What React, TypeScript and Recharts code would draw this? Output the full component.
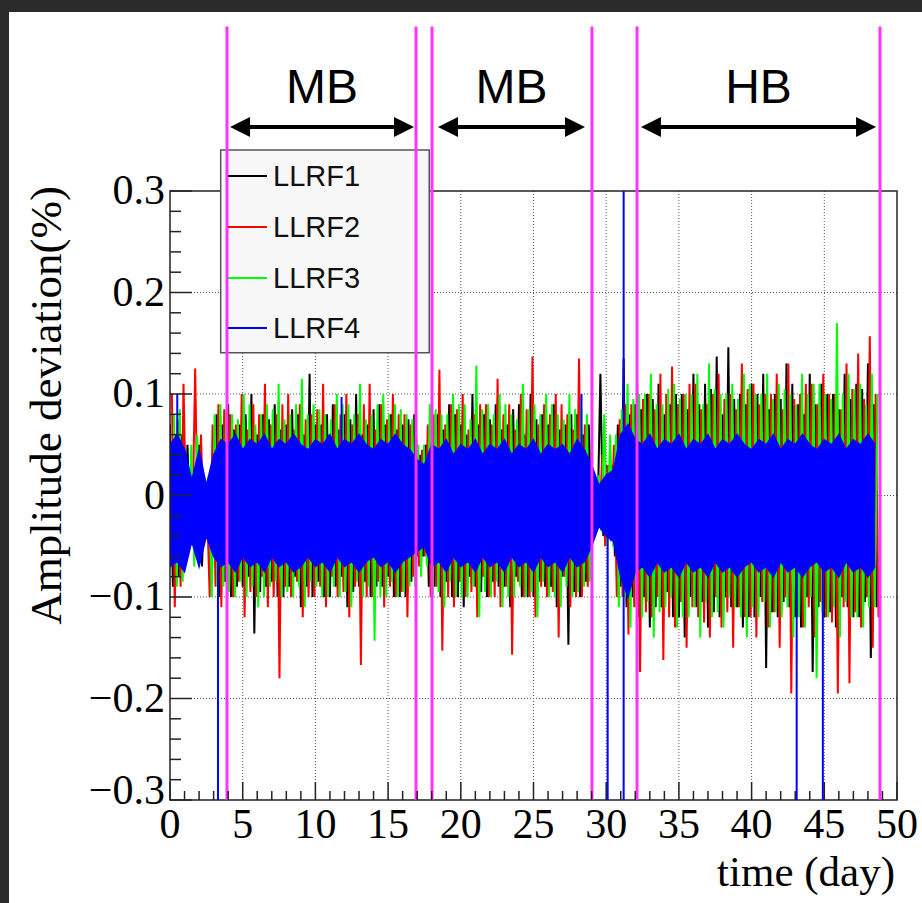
import React from "react";
import {
  ComposedChart,
  Line,
  Area,
  XAxis,
  YAxis,
  CartesianGrid,
  ReferenceLine,
  ReferenceArea,
  Legend,
} from "recharts";

// ---------------- data (amplitude deviation in %) ----------------
const seriesNames = ["LLRF1", "LLRF2", "LLRF3", "LLRF4"];

// LLRF1..3: successive positive / negative peaks of the noise trace.
// Each 0.8-day slot holds a main peak pair (Hi/Lo) and a secondary pair (HiB/LoB).
const llrf1Hi = [
  0.07, 0.06, 0.02, 0.01, 0.08, 0.09, 0.07, 0.1, 0.08, 0.09,
  0.07, 0.08, 0.12, 0.07, 0.09, 0.08, 0.1, 0.07, 0.09, 0.08,
  0.07, 0.08, 0.05, 0.08, 0.09, 0.07, 0.1, 0.08, 0.09, 0.07,
  0.09, 0.1, 0.08, 0.09, 0.07, 0.08, 0.07, 0.12, 0.03, 0.135,
  0.09, 0.1, 0.11, 0.09, 0.1, 0.12, 0.11, 0.137, 0.146, 0.1,
  0.11, 0.12, 0.1, 0.13, 0.09, 0.12, 0.11, 0.1, 0.12, 0.11,
  0.13,
];
const llrf1Lo = [
  -0.09, -0.06, -0.04, -0.03, -0.1, -0.1, -0.09, -0.136, -0.09, -0.1,
  -0.09, -0.11, -0.1, -0.1, -0.09, -0.11, -0.09, -0.1, -0.09, -0.1,
  -0.1, -0.06, -0.09, -0.1, -0.1, -0.11, -0.09, -0.1, -0.09, -0.11,
  -0.1, -0.1, -0.09, -0.11, -0.147, -0.1, -0.03, -0.04, -0.06, -0.11,
  -0.12, -0.13, -0.11, -0.12, -0.14, -0.11, -0.13, -0.12, -0.11, -0.13,
  -0.12, -0.17, -0.12, -0.11, -0.13, -0.174, -0.12, -0.13, -0.11, -0.12,
  -0.16,
];
const llrf1HiB = [
  0.06, 0.05, 0.05, 0.01, 0.07, 0.065, 0.08, 0.06, 0.075, 0.065,
  0.085, 0.06, 0.07, 0.08, 0.065, 0.075, 0.06, 0.085, 0.07, 0.065,
  0.075, 0.04, 0.07, 0.065, 0.08, 0.06, 0.07, 0.075, 0.065, 0.085,
  0.06, 0.075, 0.07, 0.065, 0.08, 0.06, 0.01, 0.03, 0.07, 0.08,
  0.085, 0.095, 0.08, 0.1, 0.085, 0.09, 0.105, 0.08, 0.095, 0.09,
  0.1, 0.085, 0.095, 0.11, 0.08, 0.09, 0.1, 0.085, 0.095, 0.105,
  0.09,
];
const llrf1LoB = [
  -0.08, -0.04, -0.07, -0.05, -0.085, -0.09, -0.08, -0.095, -0.085, -0.1,
  -0.08, -0.09, -0.085, -0.1, -0.08, -0.095, -0.085, -0.09, -0.08, -0.1,
  -0.085, -0.06, -0.09, -0.085, -0.1, -0.08, -0.095, -0.085, -0.09, -0.08,
  -0.1, -0.085, -0.09, -0.08, -0.095, -0.085, -0.03, -0.04, -0.09, -0.1,
  -0.1, -0.11, -0.095, -0.12, -0.1, -0.105, -0.115, -0.1, -0.11, -0.12,
  -0.1, -0.115, -0.105, -0.12, -0.1, -0.11, -0.115, -0.1, -0.12, -0.105,
  -0.11,
];

const llrf2Hi = [
  0.1, 0.11, 0.125, 0.0, 0.09, 0.08, 0.1, 0.09, 0.11, 0.08,
  0.1, 0.09, 0.08, 0.11, 0.09, 0.1, 0.08, 0.11, 0.09, 0.1,
  0.08, 0.06, 0.07, 0.124, 0.09, 0.1, 0.08, 0.09, 0.115, 0.09,
  0.1, 0.137, 0.09, 0.1, 0.08, 0.135, 0.01, 0.04, 0.05, 0.09,
  0.11, 0.1, 0.12, 0.127, 0.1, 0.11, 0.09, 0.12, 0.1, 0.13,
  0.11, 0.1, 0.12, 0.13, 0.1, 0.11, 0.12, 0.1, 0.13, 0.14,
  0.157,
];
const llrf2Lo = [
  -0.11, -0.04, -0.05, -0.1, -0.11, -0.1, -0.12, -0.1, -0.11, -0.18,
  -0.1, -0.12, -0.1, -0.11, -0.1, -0.12, -0.167, -0.1, -0.11, -0.1,
  -0.12, -0.07, -0.1, -0.153, -0.11, -0.1, -0.12, -0.1, -0.11, -0.157,
  -0.1, -0.12, -0.1, -0.14, -0.11, -0.1, -0.03, -0.05, -0.1, -0.137,
  -0.174, -0.12, -0.162, -0.13, -0.15, -0.12, -0.14, -0.13, -0.15, -0.12,
  -0.14, -0.13, -0.15, -0.195, -0.13, -0.14, -0.12, -0.195, -0.185, -0.13,
  -0.15,
];
const llrf2HiB = [
  0.075, 0.02, 0.06, 0.07, 0.085, 0.07, 0.065, 0.08, 0.07, 0.09,
  0.065, 0.075, 0.085, 0.06, 0.08, 0.07, 0.09, 0.065, 0.075, 0.08,
  0.07, 0.045, 0.08, 0.07, 0.085, 0.065, 0.09, 0.07, 0.08, 0.065,
  0.085, 0.07, 0.08, 0.09, 0.065, 0.07, 0.015, 0.03, 0.075, 0.09,
  0.095, 0.085, 0.1, 0.09, 0.11, 0.085, 0.1, 0.095, 0.085, 0.105,
  0.09, 0.1, 0.085, 0.095, 0.11, 0.09, 0.1, 0.085, 0.105, 0.095,
  0.1,
];
const llrf2LoB = [
  -0.09, -0.04, -0.04, -0.09, -0.1, -0.085, -0.095, -0.08, -0.1, -0.09,
  -0.085, -0.1, -0.09, -0.08, -0.095, -0.09, -0.1, -0.085, -0.09, -0.095,
  -0.08, -0.06, -0.09, -0.1, -0.085, -0.095, -0.08, -0.1, -0.09, -0.085,
  -0.1, -0.09, -0.095, -0.08, -0.1, -0.09, -0.03, -0.045, -0.1, -0.11,
  -0.115, -0.1, -0.12, -0.105, -0.11, -0.125, -0.1, -0.115, -0.11, -0.12,
  -0.105, -0.115, -0.1, -0.12, -0.11, -0.105, -0.125, -0.11, -0.115, -0.1,
  -0.12,
];

const llrf3Hi = [
  0.08, 0.03, 0.06, 0.02, 0.09, 0.08, 0.1, 0.07, 0.09, 0.11,
  0.08, 0.115, 0.09, 0.08, 0.1, 0.09, 0.11, 0.08, 0.1, 0.09,
  0.08, 0.05, 0.09, 0.08, 0.1, 0.09, 0.128, 0.09, 0.1, 0.08,
  0.11, 0.09, 0.1, 0.08, 0.1, 0.09, 0.01, 0.08, 0.06, 0.11,
  0.1, 0.12, 0.09, 0.11, 0.1, 0.12, 0.13, 0.1, 0.11, 0.12,
  0.1, 0.12, 0.11, 0.1, 0.12, 0.11, 0.1, 0.17, 0.12, 0.11,
  0.12,
];
const llrf3Lo = [
  -0.09, -0.04, -0.03, -0.1, -0.09, -0.1, -0.1, -0.11, -0.09, -0.1,
  -0.1, -0.11, -0.09, -0.1, -0.1, -0.11, -0.1, -0.143, -0.1, -0.1,
  -0.09, -0.08, -0.1, -0.11, -0.1, -0.1, -0.12, -0.1, -0.11, -0.1,
  -0.1, -0.12, -0.1, -0.11, -0.1, -0.09, -0.03, -0.05, -0.11, -0.13,
  -0.12, -0.14, -0.11, -0.13, -0.12, -0.14, -0.12, -0.13, -0.11, -0.14,
  -0.12, -0.13, -0.12, -0.14, -0.13, -0.18, -0.12, -0.14, -0.12, -0.13,
  -0.11,
];
const llrf3HiB = [
  0.085, 0.05, 0.015, 0.08, 0.085, 0.075, 0.09, 0.08, 0.085, 0.075,
  0.09, 0.08, 0.085, 0.075, 0.09, 0.08, 0.075, 0.09, 0.08, 0.085,
  0.075, 0.05, 0.085, 0.08, 0.09, 0.075, 0.085, 0.08, 0.09, 0.075,
  0.085, 0.08, 0.09, 0.075, 0.085, 0.08, 0.02, 0.06, 0.085, 0.095,
  0.1, 0.09, 0.105, 0.095, 0.1, 0.09, 0.105, 0.1, 0.095, 0.11,
  0.1, 0.095, 0.105, 0.09, 0.1, 0.11, 0.095, 0.1, 0.105, 0.09,
  0.1,
];
const llrf3LoB = [
  -0.085, -0.07, -0.035, -0.09, -0.095, -0.085, -0.09, -0.1, -0.085, -0.095,
  -0.09, -0.085, -0.1, -0.09, -0.095, -0.085, -0.09, -0.1, -0.085, -0.095,
  -0.09, -0.07, -0.095, -0.085, -0.1, -0.09, -0.095, -0.085, -0.1, -0.09,
  -0.095, -0.085, -0.1, -0.09, -0.095, -0.085, -0.035, -0.05, -0.1, -0.11,
  -0.105, -0.115, -0.1, -0.12, -0.11, -0.105, -0.115, -0.1, -0.12, -0.11,
  -0.105, -0.115, -0.11, -0.12, -0.1, -0.115, -0.11, -0.105, -0.12, -0.11,
  -0.1,
];

// LLRF4: upper / lower edge of the dense band, every 0.5 day
const llrf4Hi = [
  0.05, 0.06, 0.045, 0.015, 0.045, 0.01, 0.04, 0.055, 0.05, 0.06,
  0.045, 0.055, 0.05, 0.06, 0.045, 0.055, 0.05, 0.06, 0.05, 0.045,
  0.055, 0.05, 0.06, 0.045, 0.055, 0.05, 0.06, 0.05, 0.045, 0.055,
  0.05, 0.06, 0.05, 0.045, 0.035, 0.03, 0.05, 0.045, 0.055, 0.04,
  0.05, 0.045, 0.055, 0.04, 0.05, 0.045, 0.055, 0.04, 0.05, 0.045,
  0.055, 0.04, 0.05, 0.045, 0.05, 0.04, 0.055, 0.045, 0.03, 0.01,
  0.02, 0.025, 0.06, 0.07, 0.055, 0.05, 0.06, 0.045, 0.055, 0.05,
  0.06, 0.045, 0.055, 0.05, 0.06, 0.045, 0.055, 0.05, 0.06, 0.05,
  0.045, 0.055, 0.05, 0.06, 0.045, 0.055, 0.05, 0.06, 0.05, 0.045,
  0.055, 0.05, 0.06, 0.045, 0.055, 0.05, 0.06, 0.05,
];
const llrf4Lo = [
  -0.07, -0.065, -0.075, -0.045, -0.07, -0.04, -0.06, -0.07, -0.065, -0.075,
  -0.06, -0.07, -0.065, -0.075, -0.06, -0.07, -0.065, -0.075, -0.07, -0.06,
  -0.07, -0.065, -0.075, -0.06, -0.07, -0.065, -0.075, -0.065, -0.06, -0.07,
  -0.065, -0.075, -0.065, -0.06, -0.055, -0.05, -0.07, -0.065, -0.075, -0.06,
  -0.07, -0.065, -0.075, -0.06, -0.07, -0.065, -0.075, -0.06, -0.07, -0.065,
  -0.075, -0.06, -0.07, -0.065, -0.075, -0.06, -0.07, -0.065, -0.05, -0.03,
  -0.04, -0.045, -0.08, -0.1, -0.075, -0.07, -0.08, -0.065, -0.075, -0.07,
  -0.08, -0.065, -0.075, -0.07, -0.08, -0.065, -0.075, -0.07, -0.08, -0.07,
  -0.065, -0.075, -0.07, -0.08, -0.065, -0.075, -0.07, -0.08, -0.07, -0.065,
  -0.075, -0.07, -0.08, -0.065, -0.075, -0.07, -0.08, -0.07,
];
// isolated LLRF4 excursions (day, from, to)
const llrf4SpikeDay = [0.5, 3.3, 11.8, 28.3, 30.1, 31.2, 43.1, 44.9];
const llrf4SpikeFrom = [0.05, -0.06, 0.05, 0.04, -0.04, 0.31, -0.07, -0.07];
const llrf4SpikeTo = [0.1, -0.31, 0.097, 0.1, -0.31, -0.31, -0.31, -0.31];

// beam modes (day)
const modeEdges = [3.92, 16.92, 18.02, 29.02, 32.12, 48.83];
const modeLabels = ["MB", "MB", "HB"];
const modeStart = [4.13, 18.43, 32.39];
const modeEnd = [16.78, 28.54, 48.56];

// axes
const xTicks = [
  0, 1, 2, 3, 4, 5, 6, 7, 8, 9, 10, 11, 12, 13, 14, 15, 16, 17, 18, 19, 20,
  21, 22, 23, 24, 25, 26, 27, 28, 29, 30, 31, 32, 33, 34, 35, 36, 37, 38, 39,
  40, 41, 42, 43, 44, 45, 46, 47, 48, 49, 50,
];
const yTicks = [
  -0.3, -0.28, -0.26, -0.24, -0.22, -0.2, -0.18, -0.16, -0.14, -0.12, -0.1,
  -0.08, -0.06, -0.04, -0.02, 0, 0.02, 0.04, 0.06, 0.08, 0.1, 0.12, 0.14,
  0.16, 0.18, 0.2, 0.22, 0.24, 0.26, 0.28, 0.3,
];
const xGrid = [5, 10, 15, 20, 25, 30, 35, 40, 45];
const yGrid = [-0.2, -0.1, 0, 0.1, 0.2];

// ---------------- styling ----------------
const colors = ["#000000", "#ff0000", "#00ff00", "#0000ff"];
const MAGENTA = "#ff33ff";
const AXIS = "#222";
const SERIF = "'Liberation Serif', 'Times New Roman', serif";
const SANS = "'Liberation Sans', Arial, sans-serif";
const PLOT_LEFT = 170;
const PLOT_BOTTOM = 800;
const DATA_END = 48.8;

const SLOT = 0.8;
const zigzag = (hi: number[], lo: number[], hiB: number[], loB: number[], start: number) => {
  const pts: { day: number; v: number }[] = [];
  hi.forEach((h, i) => {
    const d = start + i * SLOT;
    pts.push({ day: d, v: h });
    pts.push({ day: d + 0.2, v: lo[i] });
    pts.push({ day: d + 0.4, v: hiB[i] });
    pts.push({ day: d + 0.6, v: loB[i] });
  });
  return pts.filter((p) => p.day <= DATA_END);
};

const llrf1Data = zigzag(llrf1Hi, llrf1Lo, llrf1HiB, llrf1LoB, 0);
const llrf2Data = zigzag(llrf2Hi, llrf2Lo, llrf2HiB, llrf2LoB, 0.13);
const llrf3Data = zigzag(llrf3Hi, llrf3Lo, llrf3HiB, llrf3LoB, 0.27);
const llrf4Band = llrf4Hi.map((h, i) => ({ day: i * 0.5, band: [llrf4Lo[i], h] }));
const llrf4Spikes = llrf4SpikeDay.flatMap((d, i) => [
  { day: d, v: llrf4SpikeFrom[i] },
  { day: d, v: llrf4SpikeTo[i] },
  { day: d, v: null },
]);

const fmtY = (v: number) => {
  if (Math.abs(v) < 1e-9) return "0";
  return (v < 0 ? "\u2212" : "") + Math.abs(v).toFixed(1);
};

const XTick = (props: any) => {
  const { x, payload } = props;
  const v = payload.value;
  const major = v % 5 === 0;
  return (
    <g>
      <line x1={x} x2={x} y1={PLOT_BOTTOM} y2={PLOT_BOTTOM - (major ? 18 : 9)} stroke={AXIS} strokeWidth={1.5} />
      {major && (
        <text x={x} y={PLOT_BOTTOM + 38} textAnchor="middle" fontSize={42} fontFamily={SERIF} fill="#000">
          {v}
        </text>
      )}
    </g>
  );
};

const YTick = (props: any) => {
  const { y, payload } = props;
  const v = payload.value;
  const major = Math.abs(v * 10 - Math.round(v * 10)) < 1e-6;
  const lift = v < -0.29 ? 10 : 1;
  return (
    <g>
      <line x1={PLOT_LEFT} x2={PLOT_LEFT + (major ? 22 : 11)} y1={y} y2={y} stroke={AXIS} strokeWidth={1.5} />
      {major && (
        <text x={165} y={y + 14 - lift} textAnchor="end" fontSize={42} fontFamily={SERIF} fill="#000">
          {fmtY(v)}
        </text>
      )}
    </g>
  );
};

const YTitle = () => (
  <text x={0} y={0} transform="translate(61,186) rotate(-90)" textAnchor="end" fontSize={45} fontFamily={SERIF} fill="#000">
    Amplitude deviation(%)
  </text>
);

const XTitle = () => (
  <text x={895} y={886} textAnchor="end" fontSize={43} fontFamily={SERIF} fill="#000">
    time (day)
  </text>
);

const makeArrow = (label: string) => (props: any) => {
  const { x1, x2, y1 } = props;
  const y = y1;
  const head = 20;
  const half = 10;
  return (
    <g>
      <line x1={x1 + head - 2} x2={x2 - head + 2} y1={y} y2={y} stroke="#000" strokeWidth={4} />
      <polygon points={`${x1},${y} ${x1 + head},${y - half} ${x1 + head},${y + half}`} fill="#000" />
      <polygon points={`${x2},${y} ${x2 - head},${y - half} ${x2 - head},${y + half}`} fill="#000" />
      <text x={(x1 + x2) / 2} y={y - 24} textAnchor="middle" fontSize={48} fontFamily={SANS} fill="#000">
        {label}
      </text>
    </g>
  );
};

const renderLegend = () => (
  <div style={{ position: "relative", width: 209, height: 203 }}>
    {seriesNames.map((name, i) => (
      <div key={name}>
        <div
          style={{
            position: "absolute",
            left: 7,
            top: 25 + i * 50.8,
            width: 39,
            height: 2,
            background: colors[i],
          }}
        />
        <div
          style={{
            position: "absolute",
            left: 52,
            top: 26 + i * 50.8 - 17,
            fontSize: 29,
            lineHeight: "34px",
            fontFamily: SANS,
            color: "#111",
            whiteSpace: "nowrap",
          }}
        >
          {name}
        </div>
      </div>
    ))}
  </div>
);

const traceProps = {
  type: "linear" as const,
  strokeWidth: 2,
  fill: "none",
  fillOpacity: 0,
  dot: false,
  activeDot: false,
  isAnimationActive: false,
};

export default function App() {
  return (
    <div style={{ position: "absolute", left: 0, top: 0, width: 922, height: 903, background: "#2b2b2b" }}>
      <div style={{ position: "absolute", left: 9, top: 12, right: 0, bottom: 0, background: "#fff" }} />
      <div style={{ position: "absolute", left: 0, top: 0 }}>
        <ComposedChart width={922} height={903} margin={{ top: 191, right: 25, bottom: 43, left: 100 }}>
          <CartesianGrid
            verticalValues={xGrid}
            horizontalValues={yGrid}
            stroke="#555"
            strokeDasharray="1 2"
          />
          <XAxis
            type="number"
            dataKey="day"
            domain={[0, 50]}
            allowDataOverflow
            ticks={xTicks}
            interval={0}
            tick={<XTick />}
            tickLine={false}
            axisLine={false}
            tickSize={0}
            tickMargin={0}
            height={60}
            label={<XTitle />}
          />
          <YAxis
            type="number"
            domain={[-0.3, 0.3]}
            allowDataOverflow
            ticks={yTicks}
            interval={0}
            tick={<YTick />}
            tickLine={false}
            axisLine={false}
            tickSize={0}
            tickMargin={0}
            width={70}
            label={<YTitle />}
          />
          <Area data={llrf1Data} dataKey="v" stroke={colors[0]} name={seriesNames[0]} {...traceProps} />
          <Area data={llrf2Data} dataKey="v" stroke={colors[1]} name={seriesNames[1]} {...traceProps} />
          <Area data={llrf3Data} dataKey="v" stroke={colors[2]} name={seriesNames[2]} {...traceProps} />
          <Area
            data={llrf4Band}
            dataKey="band"
            type="linear"
            stroke={colors[3]}
            strokeWidth={1.5}
            fill={colors[3]}
            fillOpacity={1}
            dot={false}
            activeDot={false}
            isAnimationActive={false}
            name={seriesNames[3]}
          />
          <Line data={llrf4Spikes} dataKey="v" stroke={colors[3]} strokeWidth={2} dot={false} activeDot={false} connectNulls={false} isAnimationActive={false} legendType="none" />

          <ReferenceArea x1={0} x2={50} y1={-0.3} y2={0.3} fill="none" fillOpacity={0} stroke={AXIS} strokeWidth={1.5} ifOverflow="visible" />
          <ReferenceArea x1={3.487} x2={17.83} y1={0.1407} y2={0.3404} fill="#f7f7f7" fillOpacity={1} stroke="#555" strokeWidth={1.5} ifOverflow="visible" />

          {modeEdges.map((d) => (
            <ReferenceLine
              key={d}
              segment={[{ x: d, y: -0.3 }, { x: d, y: 0.462 }]}
              stroke={MAGENTA}
              strokeWidth={3}
              ifOverflow="visible"
            />
          ))}
          {modeLabels.map((lab, i) => (
            <ReferenceLine
              key={"a" + i}
              segment={[{ x: modeStart[i], y: 0.363 }, { x: modeEnd[i], y: 0.363 }]}
              ifOverflow="visible"
              shape={makeArrow(lab)}
            />
          ))}
          <Legend
            layout="vertical"
            align="center"
            verticalAlign="middle"
            wrapperStyle={{ left: 221, top: 150, width: 209, height: 203 }}
            content={renderLegend}
          />
        </ComposedChart>
      </div>
    </div>
  );
}
